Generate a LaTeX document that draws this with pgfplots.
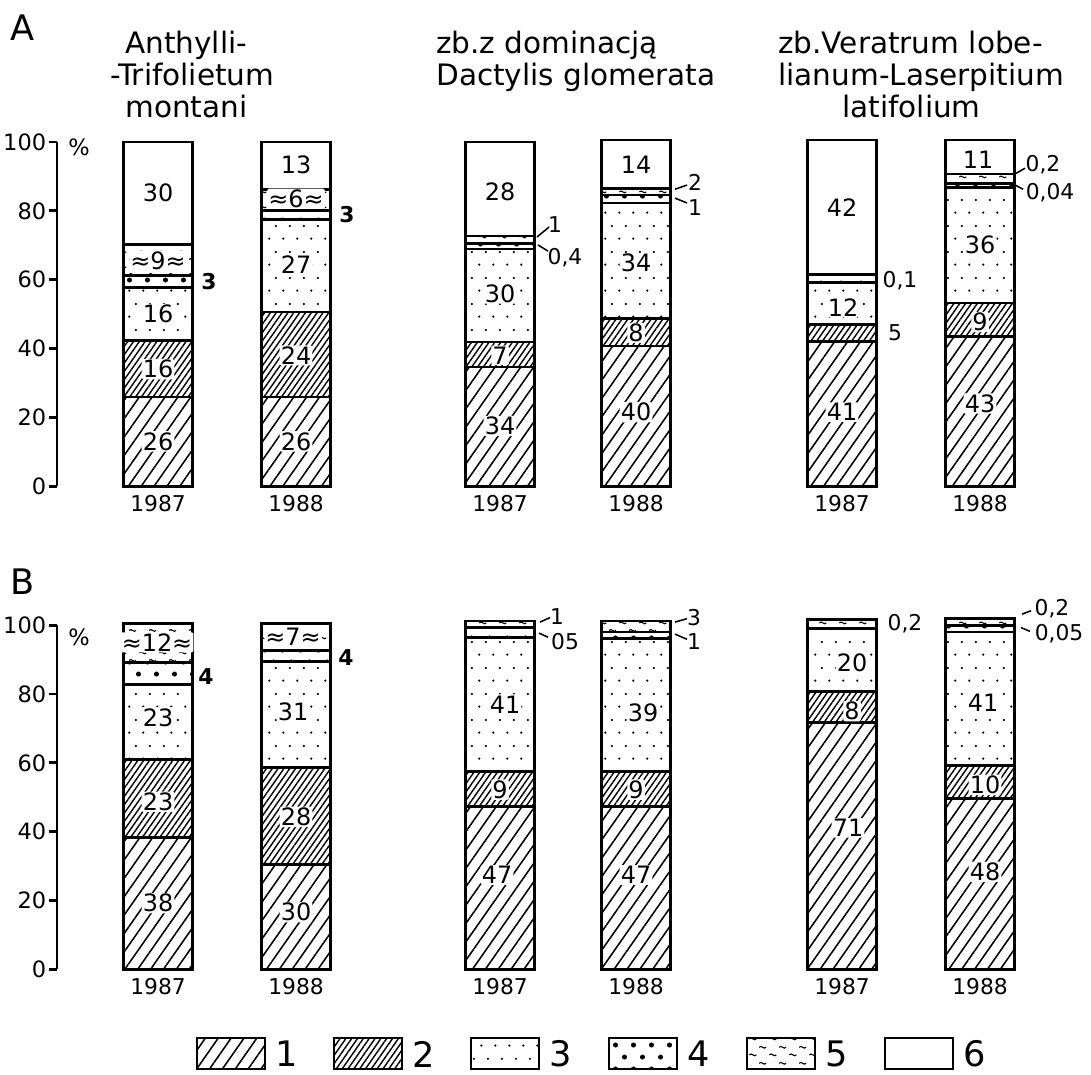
\documentclass[border=0pt]{standalone}
\usepackage{fontspec}
\setmainfont{DejaVu Sans}
\usepackage{pgfplots}
\pgfplotsset{compat=1.18}
\usetikzlibrary{patterns.meta}

% fine dots, staggered
\tikzdeclarepattern{
  name=sdots, type=uncolored,
  bottom left={(0pt,0pt)}, top right={(10pt,18.5pt)},
  tile size={(10pt,18.5pt)},
  code={\fill (2.5pt,2.5pt) circle (0.9pt);
        \fill (7.5pt,11.75pt) circle (0.9pt);}
}
% big dots
\tikzdeclarepattern{
  name=bdots, type=uncolored,
  bottom left={(0pt,0pt)}, top right={(12.8pt,17pt)},
  tile size={(12.8pt,17pt)},
  code={\fill (3.2pt,4.25pt) circle (1.8pt);
        \fill (9.6pt,12.75pt) circle (1.8pt);}
}
% tildes
\tikzdeclarepattern{
  name=tildes, type=uncolored,
  bottom left={(0pt,0pt)}, top right={(14pt,11pt)},
  tile size={(14pt,11pt)},
  code={\draw[line width=0.8pt] (1pt,3pt) .. controls (2.6pt,5.2pt) and (4.4pt,0.8pt) .. (6pt,3pt);
        \draw[line width=0.8pt] (8pt,8.5pt) .. controls (9.6pt,10.7pt) and (11.4pt,6.3pt) .. (13pt,8.5pt);}
}

\tikzset{
  seg/.style={draw=black, line width=2pt},
  s1/.style={seg, pattern={Lines[angle=55,distance=7.5pt,line width=1.1pt]}},
  s2/.style={seg, pattern={Lines[angle=55,distance=3.4pt,line width=1pt]}},
  s3/.style={seg, pattern=sdots},
  s4/.style={seg, pattern=bdots},
  s5/.style={seg, pattern=tildes},
  s6/.style={seg},
  lab/.style={font=\fontsize{17}{17}\selectfont, fill=white, inner sep=0.8pt, rounded corners=1pt},
  olab/.style={font=\fontsize{15.5}{15.5}\selectfont, inner sep=0.5pt},
  lead/.style={line width=1.1pt},
  yr/.style={font=\fontsize{15.5}{15.5}\selectfont, anchor=base},
  ttl/.style={font=\fontsize{21}{21}\selectfont, anchor=base west, inner sep=0pt},
}
\newcommand{\lab}[3]{\node[lab] at (axis cs:#1,#2) {#3};}
\newcommand{\olab}[3]{\node[olab] at (axis cs:#1,#2) {#3};}

\pgfplotsset{
  frame/.style={
    anchor=south west,
    x=0.025cm, y=0.086cm,
    xmin=57, xmax=1060, ymin=0, ymax=100,
    clip=false,
  },
  panel/.style={
    frame,
    ybar stacked, bar width=69,
    axis x line=none, axis y line*=left,
    axis line style={-, line width=2pt},
    ytick={0,20,40,60,80,100},
    tick align=outside, major tick length=6pt,
    every tick/.style={black, line width=2pt},
    yticklabel style={font=\fontsize{16}{16}\selectfont, inner sep=1.5pt},
    /pgf/number format/assume math mode=true,
  },
  overlay/.style={frame, hide axis},
}

\begin{document}
\begin{tikzpicture}
\begin{scope}[x=0.025cm,y=-0.025cm]
  \useasboundingbox (0,0) rectangle (1091,1074);
\end{scope}

% ---------------- panel A: bars
\begin{axis}[panel, at={(1.425cm,-12.15cm)}]
  \addplot[s1] coordinates {(158,25.9)(296,25.9)(500,34.6)(636,40.7)(842,42)(980,43.4)};
  \addplot[s2] coordinates {(158,16.4)(296,24.7)(500,7.3)(636,8.1)(842,4.9)(980,9.8)};
  \addplot[s3] coordinates {(158,15.5)(296,27)(500,27)(636,33.5)(842,12.2)(980,33.7)};
  \addplot[s4] coordinates {(158,3.5)(296,2.6)(500,1.7)(636,2.3)(842,0)(980,1.1)};
  \addplot[s5] coordinates {(158,9)(296,6.1)(500,2.1)(636,2)(842,2.3)(980,2.7)};
  \addplot[s6] coordinates {(158,29.7)(296,13.7)(500,27.3)(636,14)(842,39.2)(980,9.9)};
\end{axis}

% ---------------- panel A: texts on top
\begin{axis}[overlay, at={(1.425cm,-12.15cm)}]
  \node[font=\fontsize{16}{16}\selectfont] at (axis cs:79,98.5) {\%};
  \node[yr] at (axis cs:158,-7.3) {1987};
  \node[yr] at (axis cs:296,-7.3) {1988};
  \node[yr] at (axis cs:500,-7.3) {1987};
  \node[yr] at (axis cs:636,-7.3) {1988};
  \node[yr] at (axis cs:842,-7.3) {1987};
  \node[yr] at (axis cs:980,-7.3) {1988};

  % bar 1
  \lab{158}{13}{26} \lab{158}{34}{16} \lab{158}{50}{16}
  \lab{158}{65.5}{≈9≈} \lab{158}{85.2}{30}
  \olab{209}{59.4}{\bfseries 3}
  % bar 2
  \lab{296}{13}{26} \lab{296}{38}{24} \lab{296}{64.5}{27}
  \lab{296}{83.5}{≈6≈} \lab{296}{93.3}{13}
  \olab{347}{79}{\bfseries 3}
  % bar 3
  \lab{500}{17.5}{34} \lab{500}{38}{7} \lab{500}{56}{30} \lab{500}{85.5}{28}
  \draw[lead] (axis cs:537,72.4) -- (axis cs:549,75.3);
  \olab{555}{76}{1}
  \draw[lead] (axis cs:538,70.1) -- (axis cs:548,68.3);
  \olab{565}{66.3}{0,4}
  % bar 4
  \lab{636}{21.5}{40} \lab{636}{44.5}{8} \lab{636}{64.8}{34} \lab{636}{93.3}{14}
  \draw[lead] (axis cs:675,86.3) -- (axis cs:687,87.5);
  \olab{695}{88.3}{2}
  \draw[lead] (axis cs:675,83.7) -- (axis cs:687,82.3);
  \olab{695}{81.1}{1}
  % bar 5
  \lab{842}{21.5}{41} \lab{843}{52}{12} \lab{842}{80.8}{42}
  \olab{895}{44.5}{5}
  \olab{900}{59.6}{0,1}
  % bar 6
  \lab{980}{24}{43} \lab{980}{47.7}{9} \lab{980}{70}{36} \lab{978}{94.8}{11}
  \draw[lead] (axis cs:1013,90.4) -- (axis cs:1025,92.4);
  \olab{1043}{93.3}{0,2}
  \draw[lead] (axis cs:1015,87.5) -- (axis cs:1023,86.3);
  \olab{1050}{85.3}{0,04}
\end{axis}

% ---------------- panel B: bars
\begin{axis}[panel, at={(1.425cm,-24.225cm)}]
  \addplot[s1] coordinates {(158,38.2)(296,30.4)(500,47.2)(636,47.2)(842,71.6)(980,49.6)};
  \addplot[s2] coordinates {(158,22.7)(296,28.2)(500,10.2)(636,10.2)(842,9.2)(980,9.6)};
  \addplot[s3] coordinates {(158,21.9)(296,30.9)(500,39.1)(636,38.8)(842,18.3)(980,38.8)};
  \addplot[s4] coordinates {(158,6.4)(296,3.2)(500,2.9)(636,1.8)(842,0)(980,2)};
  \addplot[s5] coordinates {(158,11.4)(296,7.9)(500,1.8)(636,3.2)(842,2.6)(980,2)};
\end{axis}

% ---------------- panel B: texts on top
\begin{axis}[overlay, at={(1.425cm,-24.225cm)}]
  \node[font=\fontsize{16}{16}\selectfont] at (axis cs:79,96.5) {\%};
  \node[yr] at (axis cs:158,-7.2) {1987};
  \node[yr] at (axis cs:296,-7.2) {1988};
  \node[yr] at (axis cs:500,-7.2) {1987};
  \node[yr] at (axis cs:636,-7.2) {1988};
  \node[yr] at (axis cs:842,-7.2) {1987};
  \node[yr] at (axis cs:980,-7.2) {1988};

  % bar 1
  \lab{158}{19.2}{38} \lab{158}{48.7}{23} \lab{158}{73.2}{23} \lab{157}{95}{≈12≈}
  \olab{206}{85.1}{\bfseries 4}
  % bar 2
  \lab{296}{16.6}{30} \lab{296}{44.3}{28} \lab{293}{74.9}{31} \lab{293}{96.5}{≈7≈}
  \olab{346}{90.7}{\bfseries 4}
  % bar 3
  \lab{497}{27.4}{47} \lab{500}{52.2}{9} \lab{505}{77}{41}
  \draw[lead] (axis cs:540,100.9) -- (axis cs:550,102.2);
  \olab{557}{102.6}{1}
  \draw[lead] (axis cs:539,97.7) -- (axis cs:548,96.5);
  \olab{565}{95.3}{05}
  % bar 4
  \lab{636}{27.4}{47} \lab{636}{52.2}{9} \lab{643}{74.6}{39}
  \draw[lead] (axis cs:675,100.9) -- (axis cs:687,101.9);
  \olab{694}{102.3}{3}
  \draw[lead] (axis cs:675,97.4) -- (axis cs:687,95.9);
  \olab{694}{95.3}{1}
  % bar 5
  \lab{848}{41.1}{71} \lab{852}{75}{8} \lab{852}{89.2}{20}
  \olab{905}{100.3}{0,2}
  % bar 6
  \lab{985}{28.3}{48} \lab{985}{53.6}{10} \lab{983}{77.5}{41}
  \draw[lead] (axis cs:1022,103.2) -- (axis cs:1031,104.2);
  \olab{1052}{104.7}{0,2}
  \draw[lead] (axis cs:1021,99.3) -- (axis cs:1030,98.2);
  \olab{1059}{97.4}{0,05}
\end{axis}

% ---------------- titles and legend (pixel coordinates)
\begin{scope}[x=0.025cm,y=-0.025cm]
  \node[font=\fontsize{25}{25}\selectfont, anchor=base west, inner sep=0pt] at (10,40) {A};
  \node[font=\fontsize{25}{25}\selectfont, anchor=base west, inner sep=0pt] at (10,594) {B};

  \node[ttl] at (125,53) {Anthylli-};
  \node[ttl] at (110,85) {-Trifolietum};
  \node[ttl] at (125,117) {montani};

  \node[ttl] at (436,53) {zb.z dominacją};
  \node[ttl] at (436,85) {Dactylis glomerata};

  \node[ttl] at (778,53) {zb.Veratrum lobe-};
  \node[ttl] at (778,85) {lianum-Laserpitium};
  \node[ttl] at (842,117) {latifolium};

  \foreach \xa/\st/\t in {197/s1/1, 334/s2/2, 471/s3/3, 609/s4/4, 747/s5/5, 885/s6/6}{
    \path[\st] (\xa,1038) rectangle (\xa+68,1069);
    \node[font=\fontsize{25}{25}\selectfont, anchor=west, inner sep=0pt] at (\xa+78,1054) {\t};
  }
\end{scope}
\end{tikzpicture}
\end{document}
